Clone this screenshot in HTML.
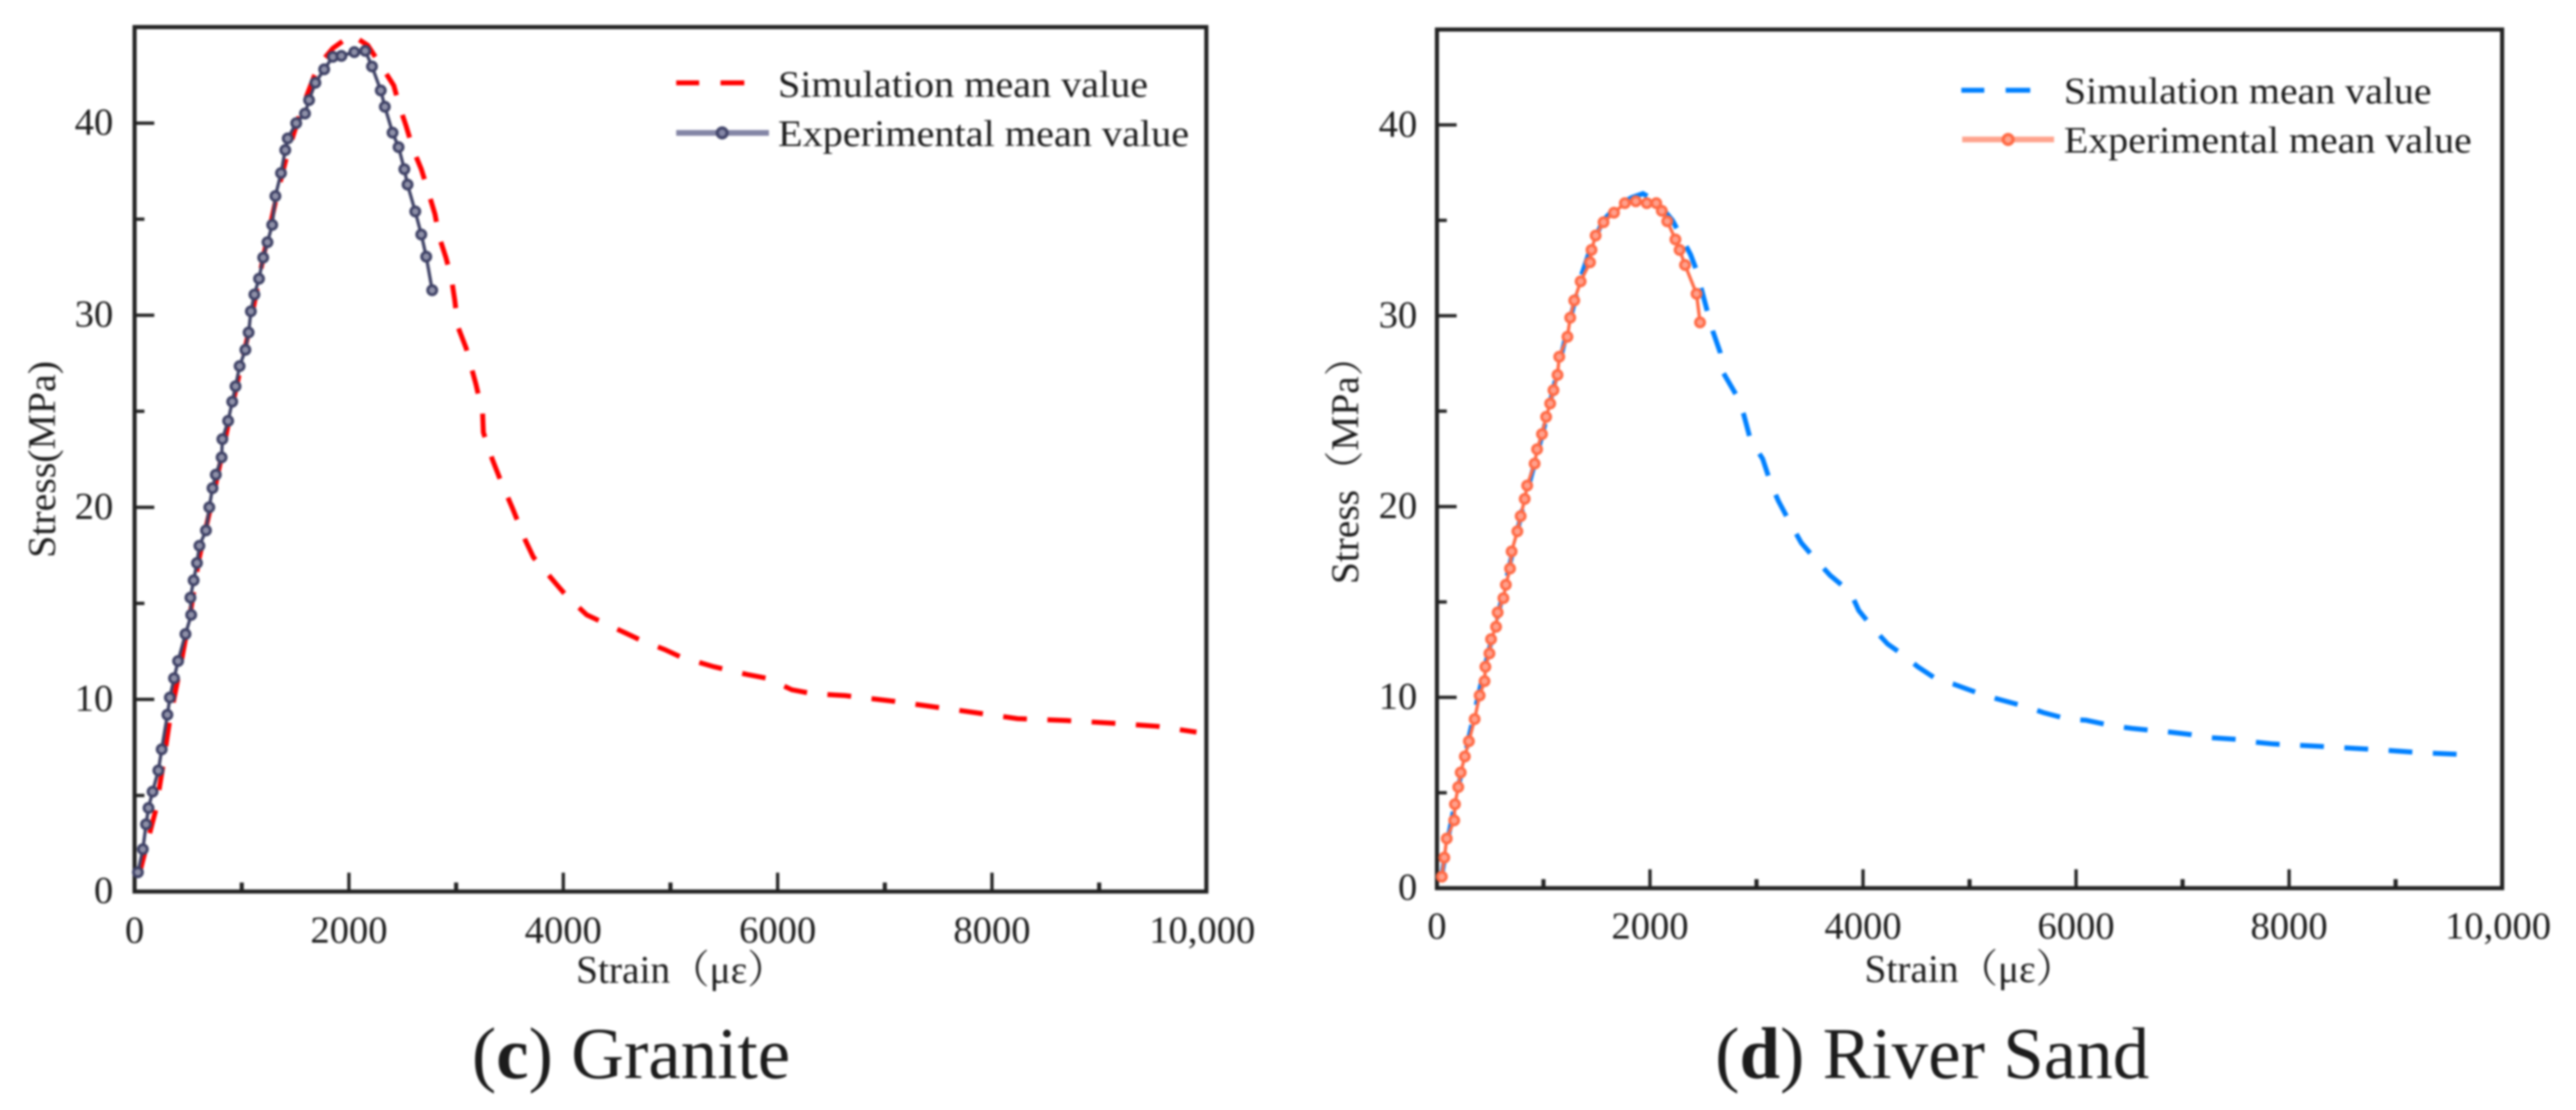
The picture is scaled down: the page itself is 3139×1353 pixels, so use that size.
<!DOCTYPE html>
<html lang="en">
<head>
<meta charset="utf-8">
<title>Stress-strain curves: Granite and River Sand</title>
<style>
html,body{margin:0;padding:0;background:#fff;}
#chart{display:block;width:3139px;height:1353px;filter:blur(1.2px);}
text{font-family:"Liberation Serif","Noto Serif CJK SC",serif;fill:#1c1c1c;}
</style>
</head>
<body>
<svg id="chart" xmlns="http://www.w3.org/2000/svg" width="3139" height="1353" viewBox="0 0 3139 1353">
  <rect x="0" y="0" width="3139" height="1353" fill="#ffffff"/>

  <g id="panel-c">
    <text transform="translate(67,680) rotate(-90)" font-size="48" textLength="240" lengthAdjust="spacingAndGlyphs">Stress(MPa)</text>
    <text x="702" y="1198" font-size="48">Strain（με）</text>
    <text x="575" y="1314" font-size="89">(<tspan font-weight="bold">c</tspan>) Granite</text>
    <g>
      <line x1="824" y1="101" x2="852" y2="101" stroke="#ff0000" stroke-width="6"/>
      <line x1="878" y1="101" x2="907" y2="101" stroke="#ff0000" stroke-width="6"/>
      <text x="948" y="118" font-size="46" textLength="451" lengthAdjust="spacingAndGlyphs">Simulation mean value</text>
      <line x1="824" y1="162" x2="937" y2="162" stroke="#8486a6" stroke-width="7"/>
      <circle cx="880" cy="162" r="6" fill="#8486a6" stroke="#44476c" stroke-width="4"/>
      <text x="948" y="178" font-size="46" textLength="501" lengthAdjust="spacingAndGlyphs">Experimental mean value</text>
    </g>
  </g>

  <g id="panel-d">
    <text transform="translate(1655,712) rotate(-90)" font-size="48">Stress（MPa）</text>
    <text x="2272" y="1197" font-size="48">Strain（με）</text>
    <text x="2090" y="1314" font-size="89">(<tspan font-weight="bold">d</tspan>) River Sand</text>
    <g>
      <line x1="2390" y1="110" x2="2418" y2="110" stroke="#0080ff" stroke-width="6"/>
      <line x1="2444" y1="110" x2="2474" y2="110" stroke="#0080ff" stroke-width="6"/>
      <text x="2515" y="126" font-size="46" textLength="448" lengthAdjust="spacingAndGlyphs">Simulation mean value</text>
      <line x1="2391" y1="170" x2="2503" y2="170" stroke="#ffa48e" stroke-width="7"/>
      <circle cx="2447" cy="170" r="6" fill="#ffa48e" stroke="#ff6a45" stroke-width="4"/>
      <text x="2515" y="186" font-size="46" textLength="497" lengthAdjust="spacingAndGlyphs">Experimental mean value</text>
    </g>
  </g>
</svg>

<script>
const xTickValues = [0, 2000, 4000, 6000, 8000, 10000];
const xTickLabels = ["0", "2000", "4000", "6000", "8000", "10,000"];
const xMinorValues = [1000, 3000, 5000, 7000, 9000];
const yTickValues = [0, 10, 20, 30, 40];
const yTickLabels = ["0", "10", "20", "30", "40"];
const yMinorValues = [5, 15, 25, 35];

const graniteSimStrain = [40,130,200,260,330,420,520,600,750,900,1060,1200,1330,1420,1550,1680,1760,1850,1950,2024,2175,2305,2419,2470,2534,2598,2675,2739,2803,2841,2905,2957,2987,3017,3093,3185,3247,3254,3338,3415,3530,3645,3721,3951,4028,4219,4334,4602,4717,4946,5099,5406,5712,5903,6133,6325,6631,7090,7473,7856,8239,8698,9157,9540,9908];
const graniteSimStress = [0.8,2.8,4.3,6.4,9,11.5,14.5,17.3,21,25,29,33,36.3,38.3,40.6,42.5,43.3,43.9,44.3,44.6,44.05,42.95,41.95,40.9,39.85,38.65,37.6,36.45,35.25,34.1,33,31.9,30.8,29.4,28.3,26.4,24.9,23.9,22.5,21.4,19.9,18.3,17.4,15.9,15.4,14.4,14.1,13.4,13.1,12.6,12.2,11.7,11.3,11.1,10.5,10.3,10.2,9.9,9.6,9.3,9,8.9,8.75,8.6,8.3];
const graniteExpStrain = [31,77,107,130,168,222,253,306,329,368,406,475,528,521,551,582,605,666,697,727,758,812,819,873,911,942,980,1034,1064,1085,1118,1161,1200,1240,1284,1314,1366,1406,1429,1508,1590,1628,1687,1769,1850,1930,2050,2152,2215,2297,2335,2407,2463,2517,2547,2619,2675,2721,2777];
const graniteExpStress = [1,2.2,3.5,4.35,5.2,6.3,7.4,9.2,10.1,11.1,12,13.4,14.4,15.3,16.2,17.1,18,18.8,20,21,21.7,22.6,23.55,24.5,25.5,26.3,27.35,28.2,29.1,30.2,31.08,31.9,33,33.8,34.7,36.2,37.4,38.6,39.2,40,40.5,41.2,42.1,42.8,43.45,43.5,43.7,43.76,42.95,41.7,40.85,39.5,38.75,37.6,36.8,35.4,34.2,33.05,31.3];

const riverSimStrain = [40,100,170,300,450,620,800,1000,1200,1350,1440,1560,1700,1830,1934,2060,2211,2381,2435,2535,2589,2658,2689,2804,2881,2943,3058,3135,3205,3320,3420,3559,3690,3883,3960,4114,4230,4384,4515,4692,4846,5116,5270,5539,5693,5924,6094,6348,6525,6695,6849,7080,7234,7504,7658,7850,8066,8390,8853,9238,9661];
const riverSimStress = [0.5,2.5,4.5,7.9,11.6,15.4,19.8,24,28.7,32,33.5,35,35.8,36.2,36.4,36,35,33.2,32.4,30.3,29.2,28.1,27,25.9,24.8,23.5,22.5,21.2,20.3,19.1,18.1,17.2,16.4,15.5,14.55,13.5,12.8,12.2,11.6,10.95,10.7,10.15,9.9,9.5,9.2,8.86,8.8,8.5,8.37,8.28,8.2,8.05,7.9,7.8,7.66,7.56,7.5,7.4,7.25,7.1,7];
const riverExpStrain = [46,69,92,162,169,200,223,262,300,354,401,447,455,493,508,555,570,624,647,686,701,755,786,824,847,917,940,986,1025,1063,1094,1132,1148,1225,1251,1289,1349,1437,1451,1490,1564,1662,1764,1867,1970,2059,2111,2162,2239,2278,2329,2437,2470];
const riverExpStress = [0.6,1.6,2.6,3.55,4.4,5.3,6.06,6.9,7.7,8.86,10.1,10.85,11.6,12.3,13.05,13.7,14.45,15.2,15.9,16.75,17.65,18.7,19.5,20.4,21.1,22.25,23,23.8,24.7,25.4,26.1,26.9,27.85,28.9,29.9,30.8,31.8,32.8,33.45,34.2,34.9,35.4,35.9,36,35.9,35.9,35.5,34.95,34,33.45,32.66,31.15,29.65];

const SVG_NS = "http://www.w3.org/2000/svg";

function makeScale(d0, d1, r0, r1) {
  return function (v) { return r0 + (v - d0) * (r1 - r0) / (d1 - d0); };
}
function pathFrom(xs, ys, sx, sy) {
  return xs.map(function (v, i) {
    return (i ? "L" : "M") + sx(v).toFixed(1) + " " + sy(ys[i]).toFixed(1);
  }).join(" ");
}
function create(tag, parent) {
  const node = document.createElementNS(SVG_NS, tag);
  parent.appendChild(node);
  return node;
}

function drawPanel(parent, left, right, bottom, top, xLabelBaseline, yLabelRight, simX, simY, expX, expY, simColor, expColor, markerFill) {
  const sx = makeScale(0, 10000, left, right);
  const sy = makeScale(0, 45, bottom, top);

  const frame = create("rect", parent);
  
  
  frame.setAttribute("x", sx(0));
  frame.setAttribute("y", sy(45));
  frame.setAttribute("width", sx(10000) - sx(0));
  frame.setAttribute("height", sy(0) - sy(45));
  frame.setAttribute("fill", "none");
  frame.setAttribute("stroke", "#222222");
  frame.setAttribute("stroke-width", "5");

  xTickValues.forEach(function (v, i) {
    const tick = create("line", parent);
    
    
    tick.setAttribute("x1", sx(v));
    tick.setAttribute("x2", sx(v));
    tick.setAttribute("y1", sy(0));
    tick.setAttribute("y2", sy(0) - 23);
    tick.setAttribute("stroke", "#222222");
    tick.setAttribute("stroke-width", "4");
    const label = create("text", parent);
    
    
    label.setAttribute("x", sx(v) - (i === 5 ? 5 : 0));
    label.setAttribute("y", xLabelBaseline);
    label.setAttribute("font-size", "47");
    label.setAttribute("text-anchor", "middle");
    label.textContent = xTickLabels[i];
  });
  xMinorValues.forEach(function (v) {
    const tick = create("line", parent);
    
    
    tick.setAttribute("x1", sx(v));
    tick.setAttribute("x2", sx(v));
    tick.setAttribute("y1", sy(0));
    tick.setAttribute("y2", sy(0) - 11);
    tick.setAttribute("stroke", "#222222");
    tick.setAttribute("stroke-width", "5");
  });
  yTickValues.forEach(function (v, i) {
    const tick = create("line", parent);
    
    
    tick.setAttribute("x1", sx(0));
    tick.setAttribute("x2", sx(0) + 24);
    tick.setAttribute("y1", sy(v));
    tick.setAttribute("y2", sy(v));
    tick.setAttribute("stroke", "#222222");
    tick.setAttribute("stroke-width", "4");
    const label = create("text", parent);
    
    
    label.setAttribute("x", yLabelRight);
    label.setAttribute("y", sy(v) + 14);
    label.setAttribute("font-size", "47");
    label.setAttribute("text-anchor", "end");
    label.textContent = yTickLabels[i];
  });
  yMinorValues.forEach(function (v) {
    const tick = create("line", parent);
    
    
    tick.setAttribute("x1", sx(0));
    tick.setAttribute("x2", sx(0) + 12);
    tick.setAttribute("y1", sy(v));
    tick.setAttribute("y2", sy(v));
    tick.setAttribute("stroke", "#222222");
    tick.setAttribute("stroke-width", "4");
  });

  const sim = create("path", parent);
  
  
  sim.setAttribute("d", pathFrom(simX, simY, sx, sy));
  sim.setAttribute("fill", "none");
  sim.setAttribute("stroke", simColor);
  sim.setAttribute("stroke-width", "6");
  sim.setAttribute("stroke-dasharray", "29 25");

  const exp = create("path", parent);
  
  
  exp.setAttribute("d", pathFrom(expX, expY, sx, sy));
  exp.setAttribute("fill", "none");
  exp.setAttribute("stroke", expColor);
  exp.setAttribute("stroke-width", "4");

  expX.forEach(function (v, i) {
    const dot = create("circle", parent);
    
    
    dot.setAttribute("cx", sx(v));
    dot.setAttribute("cy", sy(expY[i]));
    dot.setAttribute("r", "5.5");
    dot.setAttribute("fill", markerFill);
    dot.setAttribute("stroke", expColor);
    dot.setAttribute("stroke-width", "3.5");
  });
}

drawPanel(document.getElementById("panel-c"), 164, 1470, 1086.7, 33, 1149, 138,
  graniteSimStrain, graniteSimStress, graniteExpStrain, graniteExpStress, "#ff0000", "#3f4266", "#8e90a8");
drawPanel(document.getElementById("panel-d"), 1751, 3049, 1082.6, 36, 1144, 1727,
  riverSimStrain, riverSimStress, riverExpStrain, riverExpStress, "#0080ff", "#ff6a45", "#ffa08c");
</script>
</body>
</html>
